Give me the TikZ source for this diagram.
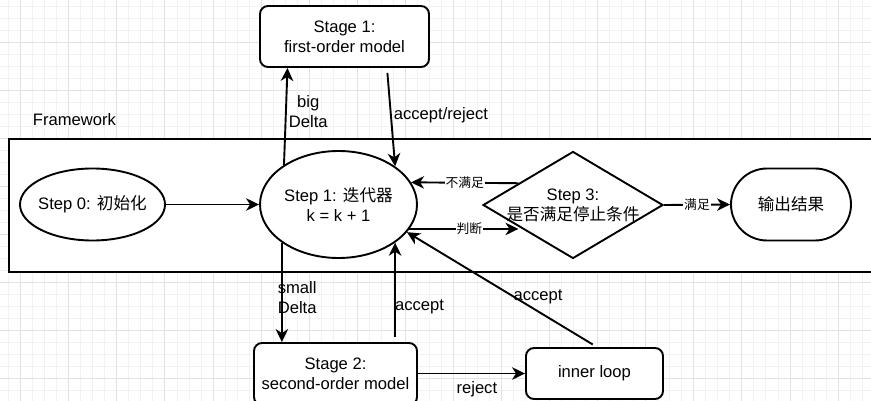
\documentclass[tikz,border=0pt]{standalone}
\usepackage{fontspec}
\setmainfont{Liberation Sans}
\newfontfamily\cjk{Noto Sans CJK SC}
\usetikzlibrary{shapes.geometric,arrows.meta,calc}

\definecolor{gridminor}{RGB}{242,242,242}
\definecolor{gridmajor}{RGB}{226,226,226}

\begin{document}
\begin{tikzpicture}[x=1pt,y=-1pt,
  every node/.style={font=\fontsize{16.6}{20}\selectfont, align=center, inner sep=0pt},
  flow/.style={line width=1.9pt, -{Stealth[length=13pt,width=12.5pt,inset=4pt]}},
  box/.style={draw, line width=1.9pt, fill=white, rounded corners=8pt},
  oval/.style={draw, ellipse, line width=1.9pt, fill=white},
  smalltag/.style={font=\fontsize{12.8}{14}\selectfont, fill=white, inner sep=1pt},
  minorline/.style={draw=gridminor, line width=0.9pt},
  majorline/.style={draw=gridmajor, line width=0.9pt},
]
\useasboundingbox (0,0) rectangle (871,401);
\clip (0,0) rectangle (871,401);
\fill[white] (0,0) rectangle (871,401);

% background grid
\foreach \i in {0,...,72} \draw[minorline] ({8.68+\i*12.02},0) -- ++(0,401);
\foreach \j in {0,...,33} \draw[minorline] (0,{6.24+\j*12.02}) -- ++(871,0);
\foreach \i in {0,...,18} \draw[majorline] ({20.7+\i*48.08},0) -- ++(0,401);
\foreach \j in {0,...,8} \draw[majorline] (0,{42.3+\j*48.08}) -- ++(871,0);

% framework container
\node[draw, fill=white, line width=2pt, minimum width=890pt, minimum height=132.5pt, anchor=north west] (frame) at (8,138.5) {};
\node (frametitle) at (74.5,120) {Framework};

% nodes
\node[box, minimum width=169pt, minimum height=61pt] (stage1) at (344.5,36.5) {Stage 1:\\first-order model};
\node[oval, inner xsep=-3pt, minimum width=145pt, minimum height=72pt] (step0) at (92.5,204.5) {Step 0: {\cjk 初始化}};
\node[oval, minimum width=157pt, minimum height=107pt] (step1) at (338.5,204.5) {Step 1: {\cjk 迭代器}\\k = k + 1};
\node[diamond, draw, line width=1.9pt, fill=white, minimum width=180pt, minimum height=107pt,
      label={[align=center]center:Step 3:\\{\cjk 是否满足停止条件}}] (step3) at (573,205) {};
\node[box, rounded corners=36pt, minimum width=120pt, minimum height=72pt] (result) at (791,204.5) {\cjk 输出结果};
\node[box, minimum width=163pt, minimum height=62pt] (stage2) at (335.5,374) {Stage 2:\\second-order model};
\node[box, minimum width=137pt, minimum height=51pt] (inner) at (594.5,373.5) {inner loop};

\coordinate (d3u) at ($(step3.west)!0.4!(step3.north)$);
\coordinate (d3l) at ($(step3.west)!0.4!(step3.south)$);

% connectors
\draw[flow] (step0) -- (step1);
\draw[flow] (step1.144) -- node[pos=0.55, anchor=west, xshift=2pt] {big\\Delta} ([xshift=-57pt]stage1.south);
\draw[flow, shorten <=5pt] ([xshift=42.5pt]stage1.south) -- node[pos=0.48, anchor=west, xshift=2pt] {accept/reject} (step1.34);
\draw[flow] (d3u) -- node[smalltag] {\cjk 不满足} (step1.17);
\draw[flow] (step1.-19) -- node[smalltag, pos=0.55] {\cjk 判断} (step1.-19 -| d3l);
\draw[flow] (step3.east) -- node[smalltag] {\cjk 满足} (result.west);
\draw[flow] (step1.214) -- node[pos=0.55, anchor=west, xshift=-5pt] {small\\Delta} (step1.214 |- stage2.north);
\draw[flow, shorten <=5pt] (stage2.north -| step1.-34) -- node[pos=0.35, anchor=west, xshift=-1pt] {accept} (step1.-34);
\draw[flow] (stage2.east |- inner.west) -- node[pos=0.55, below=7pt] {reject} (inner.west);
\draw[flow, shorten <=5pt] ([xshift=2.5pt]inner.north) -- node[pos=0.31, yshift=15pt] {accept} (step1.-22);
\end{tikzpicture}
\end{document}
